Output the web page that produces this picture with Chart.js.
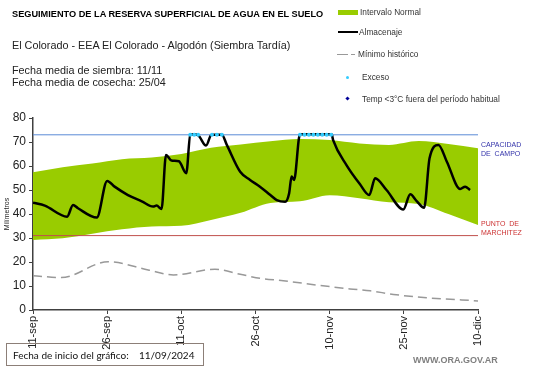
<!DOCTYPE html>
<html>
<head>
<meta charset="utf-8">
<script src="https://cdn.jsdelivr.net/npm/chart.js@4"></script>
<style>
    body { margin: 0; background: #fff; font-family: "Liberation Sans", Arial, sans-serif; }
    #wrap { position: relative; width: 541px; height: 368px; overflow: hidden; }
    #chart { position: absolute; left: 0; top: 0; }
    .txt { position: absolute; white-space: nowrap; line-height: 1; }
    .title { left: 12px; top: 10px; font-size: 9.2px; font-weight: bold; color: #000; }
    .sub { left: 12px; font-size: 10.8px; color: #222; }
    .leg { font-size: 8.3px; color: #333; }
    .sw { position: absolute; }
    .foot { position: absolute; left: 6px; top: 343px; width: 198px; height: 23px; border: 1px solid #8c7f78; box-sizing: border-box; }
    .foot span { position: absolute; top: 5px; font-family: Lato, sans-serif; font-size: 10px; color: #111; }
    .web { left: 413px; top: 356px; font-size: 9px; font-weight: bold; color: #7f7f7f; }
</style>
</head>
<body>
<div id="wrap">
    <canvas id="chart" width="541" height="368"></canvas>

    <div class="txt title">SEGUIMIENTO DE LA RESERVA SUPERFICIAL DE AGUA EN EL SUELO</div>
    <div class="txt sub" style="top:40px">El Colorado - EEA El Colorado - Algodón (Siembra Tardía)</div>
    <div class="txt sub" style="top:65px">Fecha media de siembra: 11/11</div>
    <div class="txt sub" style="top:77px">Fecha media de cosecha: 25/04</div>

    <div class="sw" style="left:338px;top:10px;width:20px;height:5px;background:#99cc00"></div>
    <div class="txt leg" style="left:360px;top:8px">Intervalo Normal</div>
    <div class="sw" style="left:338px;top:31px;width:20px;height:2px;background:#000"></div>
    <div class="txt leg" style="left:359px;top:28px">Almacenaje</div>
    <div class="sw" style="left:337px;top:54px;width:11px;height:1px;background:#999"></div>
    <div class="sw" style="left:351px;top:54px;width:4px;height:1px;background:#999"></div>
    <div class="txt leg" style="left:358px;top:50px">Mínimo histórico</div>
    <div class="sw" style="left:346px;top:76px;width:3px;height:3px;border-radius:50%;background:#33ccff"></div>
    <div class="txt leg" style="left:362px;top:73px">Exceso</div>
    <div class="sw" style="left:346px;top:97px;width:3px;height:3px;transform:rotate(45deg);background:#000099"></div>
    <div class="txt leg" style="left:362px;top:95px">Temp &lt;3°C fuera del período habitual</div>

    <div class="foot"><span style="left:6px">Fecha de inicio del gráfico:</span><span style="left:132px">11/09/2024</span></div>
    <div class="txt web">WWW.ORA.GOV.AR</div>
</div>
<script>
// days counted from the chart start date (11/09/2024)
const tickLabels = ['11-sep', '26-sep', '11-oct', '26-oct', '10-nov', '25-nov', '10-dic'];

const bandDays = [0, 6, 12, 18, 24, 30, 36, 42, 48, 54, 60, 66, 72, 78, 84, 90];
const bandUpper = [57.4, 59.5, 61, 62.8, 63.5, 65, 67.6, 69, 70.3, 71.2, 70.8, 69.4, 68.8, 70.4, 69.2, 67.4];
const bandLower = [29.2, 29.9, 31.8, 33.6, 34.8, 35.1, 37.5, 40.5, 44.6, 45.3, 47.8, 46.6, 44.9, 44.2, 40, 35.4];

const storageDays = [0, 2.4, 6.9, 8.1, 9.1, 12.9, 15, 16.5, 19.2, 22, 24.3, 25, 26, 26.9, 28, 29.5, 31,
    31.8, 32.4, 33.4, 35, 36.1, 38.2, 39.2, 41.9, 43.9, 45.9, 48, 49.3, 51, 51.8, 52.3, 52.8, 54, 60.4,
    60.7, 63.4, 66.1, 68, 69.2, 71.5, 74.9, 76.3, 77.6, 79.1, 80.2, 82, 83.7, 86.4, 87.4, 88.4];
const storageValues = [44.7, 43.5, 38.9, 43.8, 42.4, 38.5, 53.8, 51.4, 47.9, 45.3, 43.1, 43.5, 42.1, 64.6, 62.3, 62, 57,
    72.9, 73.2, 72.8, 68.5, 73, 73, 68.8, 57.6, 54.2, 51.4, 47.9, 45.8, 45.1, 48.6, 55.6, 54.2, 73.2, 73.2,
    70.8, 60.4, 52.5, 47.9, 54.9, 50, 41.9, 48.2, 45.4, 42.6, 63.2, 68.8, 61.8, 50.4, 51.4, 50];

const minDays = [0, 5.7, 15.2, 23.3, 28.4, 36.8, 41.9, 45.9, 50.6, 57.4, 64.1, 68.2, 72.9, 79.6, 90];
const minValues = [14.3, 13.5, 20.1, 16.7, 14.6, 17, 14.9, 13.2, 12.2, 10.4, 8.8, 8, 6.5, 5.1, 3.8];

const excessDays = [31.8, 32.6, 33.4, 36.2, 37.2, 38.2, 54, 54.9, 55.8, 56.7, 57.6, 58.5, 59.4, 60.3];
const excessValues = [73, 73, 73, 73, 73, 73, 73, 73, 73, 73, 73, 73, 73, 73];

const fieldCapacity = 73;
const wiltingPoint = 31;
const lastDay = 90;

function toPoints(days, values) {
    return days.map((d, i) => ({ x: d, y: values[i] }));
}

const sideLabels = {
    id: 'sideLabels',
    afterDraw(chart) {
        const ctx = chart.ctx;
        const y = chart.scales.y;
        const x = chart.chartArea.right + 3;
        ctx.save();
        ctx.font = '7px "Liberation Sans", Arial, sans-serif';
        ctx.textBaseline = 'middle';
        ctx.fillStyle = '#3333aa';
        ctx.fillText('CAPACIDAD', x, y.getPixelForValue(fieldCapacity) + 10);
        ctx.fillText('DE  CAMPO', x, y.getPixelForValue(fieldCapacity) + 19);
        ctx.fillStyle = '#cc3333';
        ctx.fillText('PUNTO  DE', x, y.getPixelForValue(wiltingPoint) - 12);
        ctx.fillText('MARCHITEZ', x, y.getPixelForValue(wiltingPoint) - 3);
        ctx.restore();
    }
};

const axisColor = '#404040';

new Chart(document.getElementById('chart'), {
    type: 'line',
    data: {
        datasets: [
            {
                label: 'Exceso',
                data: toPoints(excessDays, excessValues),
                showLine: false,
                pointRadius: 2,
                pointBackgroundColor: '#33ccff',
                pointBorderWidth: 0,
                order: 0
            },
            {
                label: 'Almacenaje',
                data: toPoints(storageDays, storageValues),
                borderColor: '#000',
                borderWidth: 2.5,
                pointRadius: 0,
                cubicInterpolationMode: 'monotone',
                order: 1
            },
            {
                label: 'Capacidad de campo',
                data: toPoints([0, lastDay], [fieldCapacity, fieldCapacity]),
                borderColor: '#5b8bd6',
                borderWidth: 1,
                pointRadius: 0,
                order: 2
            },
            {
                label: 'Punto de marchitez',
                data: toPoints([0, lastDay], [wiltingPoint, wiltingPoint]),
                borderColor: '#c0504d',
                borderWidth: 1,
                pointRadius: 0,
                order: 3
            },
            {
                label: 'Mínimo histórico',
                data: toPoints(minDays, minValues),
                borderColor: '#999',
                borderWidth: 1.5,
                borderDash: [9, 5],
                pointRadius: 0,
                cubicInterpolationMode: 'monotone',
                order: 4
            },
            {
                label: 'Intervalo Normal sup',
                data: toPoints(bandDays, bandUpper),
                borderWidth: 0,
                borderColor: 'rgba(0,0,0,0)',
                pointRadius: 0,
                cubicInterpolationMode: 'monotone',
                fill: false,
                order: 5
            },
            {
                label: 'Intervalo Normal inf',
                data: toPoints(bandDays, bandLower),
                borderWidth: 0,
                borderColor: 'rgba(0,0,0,0)',
                backgroundColor: '#99cc00',
                pointRadius: 0,
                cubicInterpolationMode: 'monotone',
                fill: 5,
                order: 6
            }
        ]
    },
    options: {
        responsive: false,
        animation: false,
        devicePixelRatio: 1,
        layout: { padding: { top: 118, right: 63, bottom: 0, left: 0 } },
        plugins: {
            legend: { display: false },
            tooltip: { enabled: false }
        },
        scales: {
            x: {
                type: 'linear',
                min: 0,
                max: lastDay,
                afterFit: scale => { scale.height = 58; },
                border: { display: true, color: axisColor, width: 1.5 },
                grid: { drawOnChartArea: false, drawTicks: true, tickLength: 4, color: axisColor },
                ticks: {
                    stepSize: 15,
                    autoSkip: false,
                    maxRotation: 90,
                    minRotation: 90,
                    padding: 2,
                    color: '#222',
                    font: { family: '"Liberation Sans", Arial, sans-serif', size: 11 },
                    callback: value => tickLabels[value / 15]
                }
            },
            y: {
                min: 0,
                max: 80,
                afterFit: scale => { scale.width = 33; },
                border: { display: true, color: axisColor, width: 1.5 },
                grid: { drawOnChartArea: false, drawTicks: true, tickLength: 4, color: axisColor },
                ticks: {
                    stepSize: 10,
                    padding: 3,
                    color: '#222',
                    font: { family: '"Liberation Sans", Arial, sans-serif', size: 12 }
                },
                title: {
                    display: true,
                    text: 'Milímetros',
                    color: '#222',
                    padding: { top: 3, bottom: 0 },
                    font: { family: '"Liberation Sans", Arial, sans-serif', size: 7 }
                }
            }
        }
    },
    plugins: [sideLabels]
});
</script>
</body>
</html>
